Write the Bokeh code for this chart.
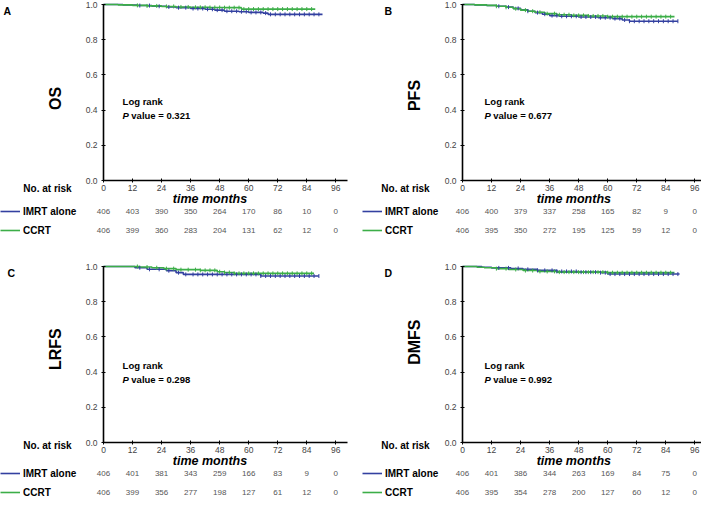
import numpy as np
from bokeh.plotting import figure
from bokeh.models import (Range1d, FixedTicker, Label, LabelSet, ColumnDataSource,
                          Legend, LegendItem, PrintfTickFormatter, LinearAxis)
from bokeh.layouts import gridplot
from bokeh.core.properties import value
from bokeh.embed import file_html
from bokeh.resources import INLINE

# ---------------- data ----------------
panel_letters = ["A", "B", "C", "D"]
endpoints = ["OS", "PFS", "LRFS", "DMFS"]
p_values = ["0.321", "0.677", "0.298", "0.992"]
group_names = ["IMRT alone", "CCRT"]
risk_times = [0, 12, 24, 36, 48, 60, 72, 84, 96]
y_ticks = [0.0, 0.2, 0.4, 0.6, 0.8, 1.0]

risk_A_imrt = [406, 403, 390, 350, 264, 170, 86, 10, 0]
risk_A_ccrt = [406, 399, 360, 283, 204, 131, 62, 12, 0]
risk_B_imrt = [406, 400, 379, 337, 258, 165, 82, 9, 0]
risk_B_ccrt = [406, 395, 350, 272, 195, 125, 59, 12, 0]
risk_C_imrt = [406, 401, 381, 343, 259, 166, 83, 9, 0]
risk_C_ccrt = [406, 399, 356, 277, 198, 127, 61, 12, 0]
risk_D_imrt = [406, 401, 386, 344, 263, 169, 84, 75, 0]
risk_D_ccrt = [406, 395, 354, 278, 200, 127, 60, 12, 0]

# Kaplan-Meier step curves (time in months, survival after the step)
t_A_imrt = [0, 8, 14, 20, 26, 30, 36, 42, 46, 50, 56, 60, 66, 68, 90.5]
s_A_imrt = [1.0, 0.997, 0.994, 0.990, 0.986, 0.982, 0.977, 0.973, 0.968, 0.962, 0.959, 0.955, 0.951, 0.944, 0.944]
t_A_ccrt = [0, 6, 12, 18, 24, 30, 36, 44, 50, 57, 87.5]
s_A_ccrt = [1.0, 0.998, 0.995, 0.992, 0.989, 0.986, 0.984, 0.983, 0.982, 0.974, 0.974]

t_B_imrt = [0, 5, 10, 14, 18, 21, 24, 27, 30, 33, 36, 40, 48, 56, 62, 66, 69, 89]
s_B_imrt = [1.0, 0.998, 0.994, 0.990, 0.985, 0.978, 0.970, 0.962, 0.954, 0.945, 0.937, 0.933, 0.929, 0.925, 0.920, 0.912, 0.905, 0.905]
t_B_ccrt = [0, 5, 10, 14, 18, 21, 24, 27, 30, 34, 39, 45, 52, 60, 87.6]
s_B_ccrt = [1.0, 0.998, 0.995, 0.990, 0.984, 0.976, 0.968, 0.962, 0.956, 0.948, 0.942, 0.938, 0.935, 0.931, 0.931]

t_C_imrt = [0, 13, 18, 26, 30, 33, 65, 89]
s_C_imrt = [1.0, 0.993, 0.984, 0.976, 0.965, 0.955, 0.946, 0.946]
t_C_ccrt = [0, 15, 20, 25, 30, 40, 47, 50, 54, 87]
s_C_ccrt = [1.0, 0.997, 0.993, 0.988, 0.982, 0.978, 0.970, 0.966, 0.961, 0.961]

t_D_imrt = [0, 8, 12, 20, 25, 31, 39, 48, 57, 60, 89.7]
s_D_imrt = [1.0, 0.996, 0.992, 0.989, 0.984, 0.978, 0.972, 0.968, 0.965, 0.957, 0.957]
t_D_ccrt = [0, 6, 9, 14, 19, 25, 31, 39, 60, 87.6]
s_D_ccrt = [1.0, 0.996, 0.993, 0.988, 0.983, 0.977, 0.972, 0.968, 0.965, 0.965]

# censoring times (months)
cens_imrt = [15, 19, 23, 27, 31, 34, 37, 39, 41, 43, 45, 47, 49, 51, 53, 55, 57, 59, 61,
             63, 65, 67, 69, 71, 73, 75, 77, 79, 81, 83, 85, 87, 89]
cens_ccrt = [14, 18, 22, 26, 29, 32, 35, 38, 40, 42, 44, 46, 48, 50, 52, 54, 56, 58, 60,
             62, 64, 66, 68, 70, 72, 74, 76, 78, 80, 82, 84, 86]

# ---------------- style ----------------
BLUE = "#3340a0"
GREEN = "#3cae48"
FONT = "Liberation Sans"
XMAX = 101
K = 2.42     # px per month
U = 176.0    # px per unit of survival


def censor_points(t, s, cens):
    t = np.asarray(t, float)
    s = np.asarray(s, float)
    c = np.asarray([v for v in cens if v <= t[-1]], float)
    idx = np.searchsorted(t, c, side="right") - 1
    return c, s[idx]


def make_panel(i, t_i, s_i, t_c, s_c, r_i, r_c, W, H, X0, Y0, letter_dx, legend_dx,
               nar_dx, nar_dy, tm_x, row_dy, lr_x, lr_y, ylab_y):
    p = figure(width=W, height=H, title=None,
               x_range=Range1d(-X0 / K, (W - X0) / K),
               y_range=Range1d(-(H - Y0) / U, Y0 / U),
               x_axis_location=None, y_axis_location=None,
               output_backend="svg", toolbar_location=None, min_border=0)
    p.min_border_left = 0
    p.min_border_right = 0
    p.min_border_top = 0
    p.min_border_bottom = 0
    p.outline_line_color = None
    p.grid.visible = False
    p.background_fill_color = "white"
    p.border_fill_color = "white"

    xaxis = LinearAxis(fixed_location=0, ticker=FixedTicker(ticks=risk_times), bounds=(0, XMAX))
    yaxis = LinearAxis(fixed_location=0, ticker=FixedTicker(ticks=y_ticks),
                       formatter=PrintfTickFormatter(format="%.1f"), bounds=(0, 1))
    for ax in (xaxis, yaxis):
        ax.axis_line_width = 1.6
        ax.axis_line_color = "black"
        ax.major_tick_in = 2
        ax.major_tick_out = 2
        ax.major_tick_line_width = 1
        ax.minor_tick_line_color = None
        ax.major_label_text_font = FONT
        ax.major_label_text_font_size = "8.5px"
        ax.major_label_text_color = "#444444"
    xaxis.major_label_standoff = 2
    yaxis.major_label_standoff = 4
    p.add_layout(xaxis, "below")
    p.add_layout(yaxis, "left")

    r1 = p.step(t_i, s_i, mode="after", line_color=BLUE, line_width=1.6)
    r2 = p.step(t_c, s_c, mode="after", line_color=GREEN, line_width=1.6)
    cx, cy = censor_points(t_i, s_i, cens_imrt)
    p.scatter(cx, cy, marker="dash", angle=np.pi / 2, size=4, line_color=BLUE, line_width=1)
    cx, cy = censor_points(t_c, s_c, cens_ccrt)
    p.scatter(cx, cy, marker="dash", angle=np.pi / 2, size=4, line_color=GREEN, line_width=1)

    # y axis title (rotated)
    p.add_layout(Label(x=-48 / K, y=ylab_y, text=endpoints[i], angle=np.pi / 2,
                       text_font=FONT, text_font_size="16px", text_font_style="bold",
                       text_color="black", text_align="center", text_baseline="middle"))

    # log rank text
    p.add_layout(Label(x=lr_x, y=lr_y, text="Log rank", text_font=FONT,
                       text_font_size="9.5px", text_font_style="bold",
                       text_color="black", text_baseline="middle"))
    p.add_layout(Label(x=lr_x, y=lr_y - 14 / U, text="P", text_font=FONT,
                       text_font_size="9.5px", text_font_style="bold italic",
                       text_color="black", text_baseline="middle"))
    p.add_layout(Label(x=lr_x + 8.7 / K, y=lr_y - 14 / U, text="value = " + p_values[i],
                       text_font=FONT, text_font_size="9.5px", text_font_style="bold",
                       text_color="black", text_baseline="middle"))

    # panel letter
    p.add_layout(Label(x=letter_dx / K, y=1.0, text=panel_letters[i], text_font=FONT,
                       text_font_size="10.5px", text_font_style="bold", text_color="black",
                       text_baseline="top", text_align="left"))

    # x axis title
    p.add_layout(Label(x=tm_x, y=-18 / U, text="time months", text_font=FONT,
                       text_font_size="12.5px", text_font_style="bold italic",
                       text_color="black", text_baseline="middle", text_align="center"))
    # no. at risk
    p.add_layout(Label(x=nar_dx / K, y=-nar_dy / U, text="No. at risk", text_font=FONT,
                       text_font_size="10px", text_font_style="bold", text_color="black",
                       text_baseline="middle", text_align="center"))

    for vals, dy in ((r_i, row_dy[0]), (r_c, row_dy[1])):
        src = ColumnDataSource(dict(x=risk_times, y=[-dy / U] * len(risk_times),
                                    text=[str(v) for v in vals]))
        p.add_layout(LabelSet(x="x", y="y", text="text", source=src,
                              text_align="center", text_baseline="middle",
                              text_font=value(FONT), text_font_size="8px",
                              text_color="#555555"))

    # legend: rows centred at row_dy below the axis
    legend_top = Y0 + row_dy[0] - 6
    legend = Legend(items=[LegendItem(label=group_names[0], renderers=[r1]),
                           LegendItem(label=group_names[1], renderers=[r2])],
                    location=(X0 + legend_dx, H - (legend_top + 12 + 7 + 12)),
                    orientation="vertical",
                    border_line_color=None, background_fill_alpha=0,
                    padding=0, margin=0, spacing=7, glyph_width=20, glyph_height=12,
                    label_height=12, label_standoff=3,
                    label_text_font=FONT, label_text_font_size="10px",
                    label_text_font_style="bold", label_text_color="black")
    p.add_layout(legend)
    return p


pA = make_panel(0, t_A_imrt, s_A_imrt, t_A_ccrt, s_A_ccrt, risk_A_imrt, risk_A_ccrt,
                354, 250, 103, 180, -100, -103, -56, 8, 44, (31, 50), 7.9, 0.447, 0.466)
pB = make_panel(1, t_B_imrt, s_B_imrt, t_B_ccrt, s_B_ccrt, risk_B_imrt, risk_B_ccrt,
                347, 250, 108, 180, -78, -100, -57, 8, 46, (31, 50), 9.1, 0.447, 0.483)
pC = make_panel(2, t_C_imrt, s_C_imrt, t_C_ccrt, s_C_ccrt, risk_C_imrt, risk_C_ccrt,
                354, 248, 103, 192, -96, -103, -56, 3, 44, (31, 50), 7.9, 0.437, 0.53)
pD = make_panel(3, t_D_imrt, s_D_imrt, t_D_ccrt, s_D_ccrt, risk_D_imrt, risk_D_ccrt,
                347, 248, 108, 192, -78, -100, -57, 3, 46, (31, 50), 9.1, 0.437, 0.57)

grid = gridplot([[pA, pB], [pC, pD]], toolbar_location=None)

open("out.html", "w").write(file_html(grid, INLINE))
